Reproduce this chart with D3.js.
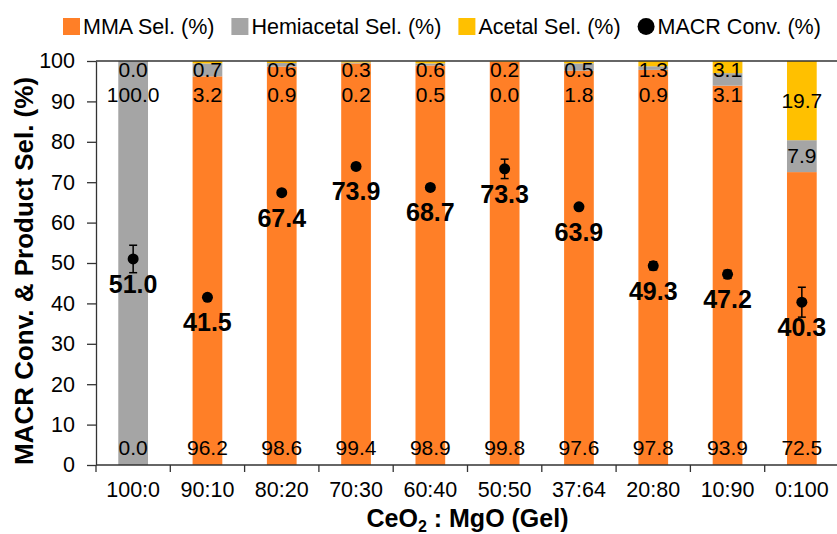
<!DOCTYPE html>
<html>
<head>
<meta charset="utf-8">
<script src="https://cdn.jsdelivr.net/npm/d3@7"></script>
<style>
  html, body { margin: 0; padding: 0; background: #fff; }
  svg { display: block; font-family: "Liberation Sans", Arial, sans-serif; }
</style>
</head>
<body>
<svg id="chart" width="837" height="534"></svg>
<script>
const categories = ["100:0", "90:10", "80:20", "70:30", "60:40", "50:50", "37:64", "20:80", "10:90", "0:100"];
const mmaSel     = [0.0, 96.2, 98.6, 99.4, 98.9, 99.8, 97.6, 97.8, 93.9, 72.5];
const hemiSel    = [100.0, 3.2, 0.9, 0.2, 0.5, 0.0, 1.8, 0.9, 3.1, 7.9];
const acetalSel  = [0.0, 0.7, 0.6, 0.3, 0.6, 0.2, 0.5, 1.3, 3.1, 19.7];
const macrConv   = [51.0, 41.5, 67.4, 73.9, 68.7, 73.3, 63.9, 49.3, 47.2, 40.3];
const macrErr    = [3.4, 0.4, 0.6, 0.7, 0.6, 2.4, 0.5, 1.0, 1.0, 3.7];
const yTicks     = [0, 10, 20, 30, 40, 50, 60, 70, 80, 90, 100];
const seriesNames = ["MMA Sel. (%)", "Hemiacetal Sel. (%)", "Acetal Sel. (%)", "MACR Conv. (%)"];

const colors = { mma: "#FF7F27", hemi: "#A5A5A5", acetal: "#FFC000" };
const FONT = '"Liberation Sans", Arial, sans-serif';

const svg = d3.select("#chart");
const pLeft = 96, pRight = 839, pTop = 61, pBottom = 465;

const x = d3.scaleBand().domain(categories).range([pLeft, pRight]).paddingInner(0.6).paddingOuter(0.3);
const y = d3.scaleLinear().domain([0, 100]).range([pBottom, pTop]).clamp(true);

const table = categories.map((c, i) => ({ cat: c, mma: mmaSel[i], hemi: hemiSel[i], acetal: acetalSel[i] }));
const keys = ["mma", "hemi", "acetal"];
const stacked = d3.stack().keys(keys)(table);

// bars
svg.append("g").selectAll("g").data(stacked).join("g")
  .attr("fill", d => colors[d.key])
  .selectAll("rect").data(d => d).join("rect")
  .attr("x", d => x(d.data.cat))
  .attr("width", x.bandwidth())
  .attr("y", d => y(d[1]))
  .attr("height", d => Math.max(0, y(d[0]) - y(d[1])));

// axes
const yAxis = d3.axisLeft(y).tickValues(yTicks).tickSize(9).tickSizeOuter(0).tickPadding(12);
const gy = svg.append("g").attr("transform", `translate(${pLeft},0)`).call(yAxis);
gy.selectAll("text").attr("font-size", 21.5).attr("font-family", FONT).attr("fill", "#000");
gy.selectAll("line, path").attr("stroke", "#333").attr("stroke-width", 1.3);

const xAxis = d3.axisBottom(x).tickSize(0).tickPadding(0);
const gx = svg.append("g").attr("transform", `translate(0,${pBottom})`).call(xAxis);
gx.select("path").remove();
gx.selectAll("text").attr("font-size", 21.5).attr("font-family", FONT).attr("fill", "#000").attr("dy", null).attr("y", 32);
gx.selectAll("line").remove();
svg.append("line").attr("x1", pLeft).attr("x2", pRight).attr("y1", pBottom).attr("y2", pBottom).attr("stroke", "#333").attr("stroke-width", 1.3);
svg.append("line").attr("x1", pLeft).attr("x2", pRight).attr("y1", y(100)).attr("y2", y(100)).attr("stroke", "#333").attr("stroke-width", 1.3);
const step = x.step();
svg.append("g").selectAll("line").data(d3.range(categories.length + 1)).join("line")
  .attr("x1", i => pLeft + i * step).attr("x2", i => pLeft + i * step)
  .attr("y1", pBottom).attr("y2", pBottom + 7)
  .attr("stroke", "#333").attr("stroke-width", 1.3);

// selectivity labels
const cx = c => x(c) + x.bandwidth() / 2;
const labels = svg.append("g").attr("font-size", 21).attr("font-family", FONT).attr("fill", "#000").attr("text-anchor", "middle");
table.forEach((d, i) => {
  labels.append("text").attr("x", cx(d.cat)).attr("y", y(0) - 10).text(d.mma.toFixed(1));
  const aLo = d.mma + d.hemi, aHi = aLo + d.acetal;
  const aY = (d.acetal >= 5 && d.acetal <= 50) ? y((aLo + aHi) / 2) : y(100) + 9;
  labels.append("text").attr("x", cx(d.cat)).attr("y", aY).attr("dy", "0.35em").text(d.acetal.toFixed(1));
  const hLo = d.mma, hHi = d.mma + d.hemi;
  const hY = (d.hemi >= 5 && d.hemi <= 50) ? y((hLo + hHi) / 2) : aY + 24.5;
  labels.append("text").attr("x", cx(d.cat)).attr("y", hY).attr("dy", "0.35em").text(d.hemi.toFixed(1));
});

// MACR conversion points with error bars
const pts = svg.append("g");
macrConv.forEach((v, i) => {
  const px = cx(categories[i]);
  const e = macrErr[i];
  pts.append("line").attr("x1", px).attr("x2", px).attr("y1", y(v - e)).attr("y2", y(v + e)).attr("stroke", "#000").attr("stroke-width", 1.5);
  [v - e, v + e].forEach(t => pts.append("line").attr("x1", px - 4).attr("x2", px + 4).attr("y1", y(t)).attr("y2", y(t)).attr("stroke", "#000").attr("stroke-width", 1.5));
  pts.append("circle").attr("cx", px).attr("cy", y(v)).attr("r", 5.5).attr("fill", "#000");
  pts.append("text").attr("x", px).attr("y", y(v) + 34).attr("text-anchor", "middle")
    .attr("font-size", 25).attr("font-weight", "bold").attr("font-family", FONT).attr("fill", "#000")
    .text(v.toFixed(1));
});

// axis titles
svg.append("text").attr("transform", `translate(33,271) rotate(-90)`).attr("text-anchor", "middle")
  .attr("font-size", 26).attr("font-weight", "bold").attr("font-family", FONT).attr("fill", "#000")
  .text("MACR Conv. & Product Sel. (%)");
const xt = svg.append("text").attr("x", (pLeft + pRight) / 2).attr("y", 527).attr("text-anchor", "middle")
  .attr("font-size", 25).attr("font-weight", "bold").attr("font-family", FONT).attr("fill", "#000");
xt.append("tspan").text("CeO");
xt.append("tspan").attr("font-size", 16).attr("dy", 5).text("2");
xt.append("tspan").attr("dy", -5).text(" : MgO (Gel)");

// legend
const legend = svg.append("g").attr("font-size", 21.5).attr("font-family", FONT).attr("fill", "#000");
let lx = 63;
const legendColors = [colors.mma, colors.hemi, colors.acetal, null];
seriesNames.forEach((name, i) => {
  if (legendColors[i]) {
    legend.append("rect").attr("x", lx).attr("y", 18).attr("width", 17).attr("height", 17).attr("fill", legendColors[i]);
  } else {
    legend.append("circle").attr("cx", lx + 8.5).attr("cy", 26.5).attr("r", 8.5).attr("fill", "#000");
  }
  const t = legend.append("text").attr("x", lx + 20).attr("y", 34).text(name);
  lx += 20 + t.node().getComputedTextLength() + 17;
});
</script>
</body>
</html>
